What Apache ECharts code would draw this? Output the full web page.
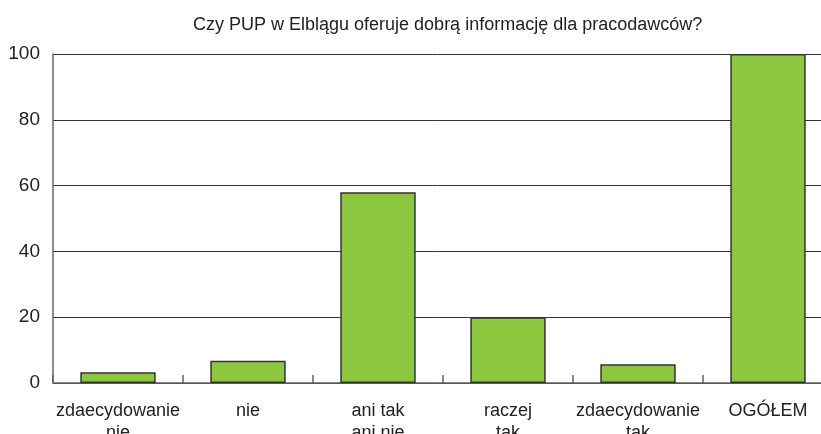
<!DOCTYPE html>
<html><head><meta charset="utf-8">
<script src="https://cdn.jsdelivr.net/npm/echarts@6/dist/echarts.min.js"></script>
<style>html,body{margin:0;padding:0;background:#fff}#c{width:821px;height:434px}</style>
</head><body><div id="c"></div>
<script>
const titleText = 'Czy PUP w Elblągu oferuje dobrą informację dla pracodawców?';
const categories = ['zdaecydowanie\nnie', 'nie', 'ani tak\nani nie', 'raczej\ntak', 'zdaecydowanie\ntak', 'OGÓŁEM'];
const values = [3.3, 6.8, 58, 20, 5.7, 100];
const yTicks = [0, 20, 40, 60, 80, 100];
const font = '"Liberation Sans Narrow", "Liberation Sans", Arial, sans-serif';
const chart = echarts.init(document.getElementById('c'));
chart.setOption({
  animation: false,
  title: { text: titleText, left: 188, top: 11, textStyle: { fontFamily: font, fontSize: 18, fontWeight: 'normal', color: '#222' } },
  grid: { left: 53, top: 54, right: -12, bottom: 51, containLabel: false, outerBoundsMode: 'none' },
  xAxis: {
    type: 'category', data: categories,
    axisLine: { lineStyle: { color: '#666', width: 1.5 } },
    axisTick: { show: true, inside: true, length: 8, alignWithLabel: false, lineStyle: { color: '#666', width: 1.5 } },
    axisLabel: { fontFamily: font, fontSize: 18, color: '#222', margin: 17, lineHeight: 22, interval: 0 }
  },
  yAxis: {
    type: 'value', min: 0, max: 100, interval: 20,
    axisLine: { show: true, lineStyle: { color: '#666', width: 1.5 } },
    axisTick: { show: false },
    axisLabel: { fontFamily: font, fontSize: 19, color: '#222', margin: 13, formatter: v => yTicks.includes(v) ? String(v) : '' },
    splitLine: { lineStyle: { color: '#333', width: 1 } }
  },
  series: [{
    type: 'bar', data: values, barWidth: '58%',
    itemStyle: { color: '#8DC63F', borderColor: '#333', borderWidth: 1.5 }
  }]
});
</script></body></html>
